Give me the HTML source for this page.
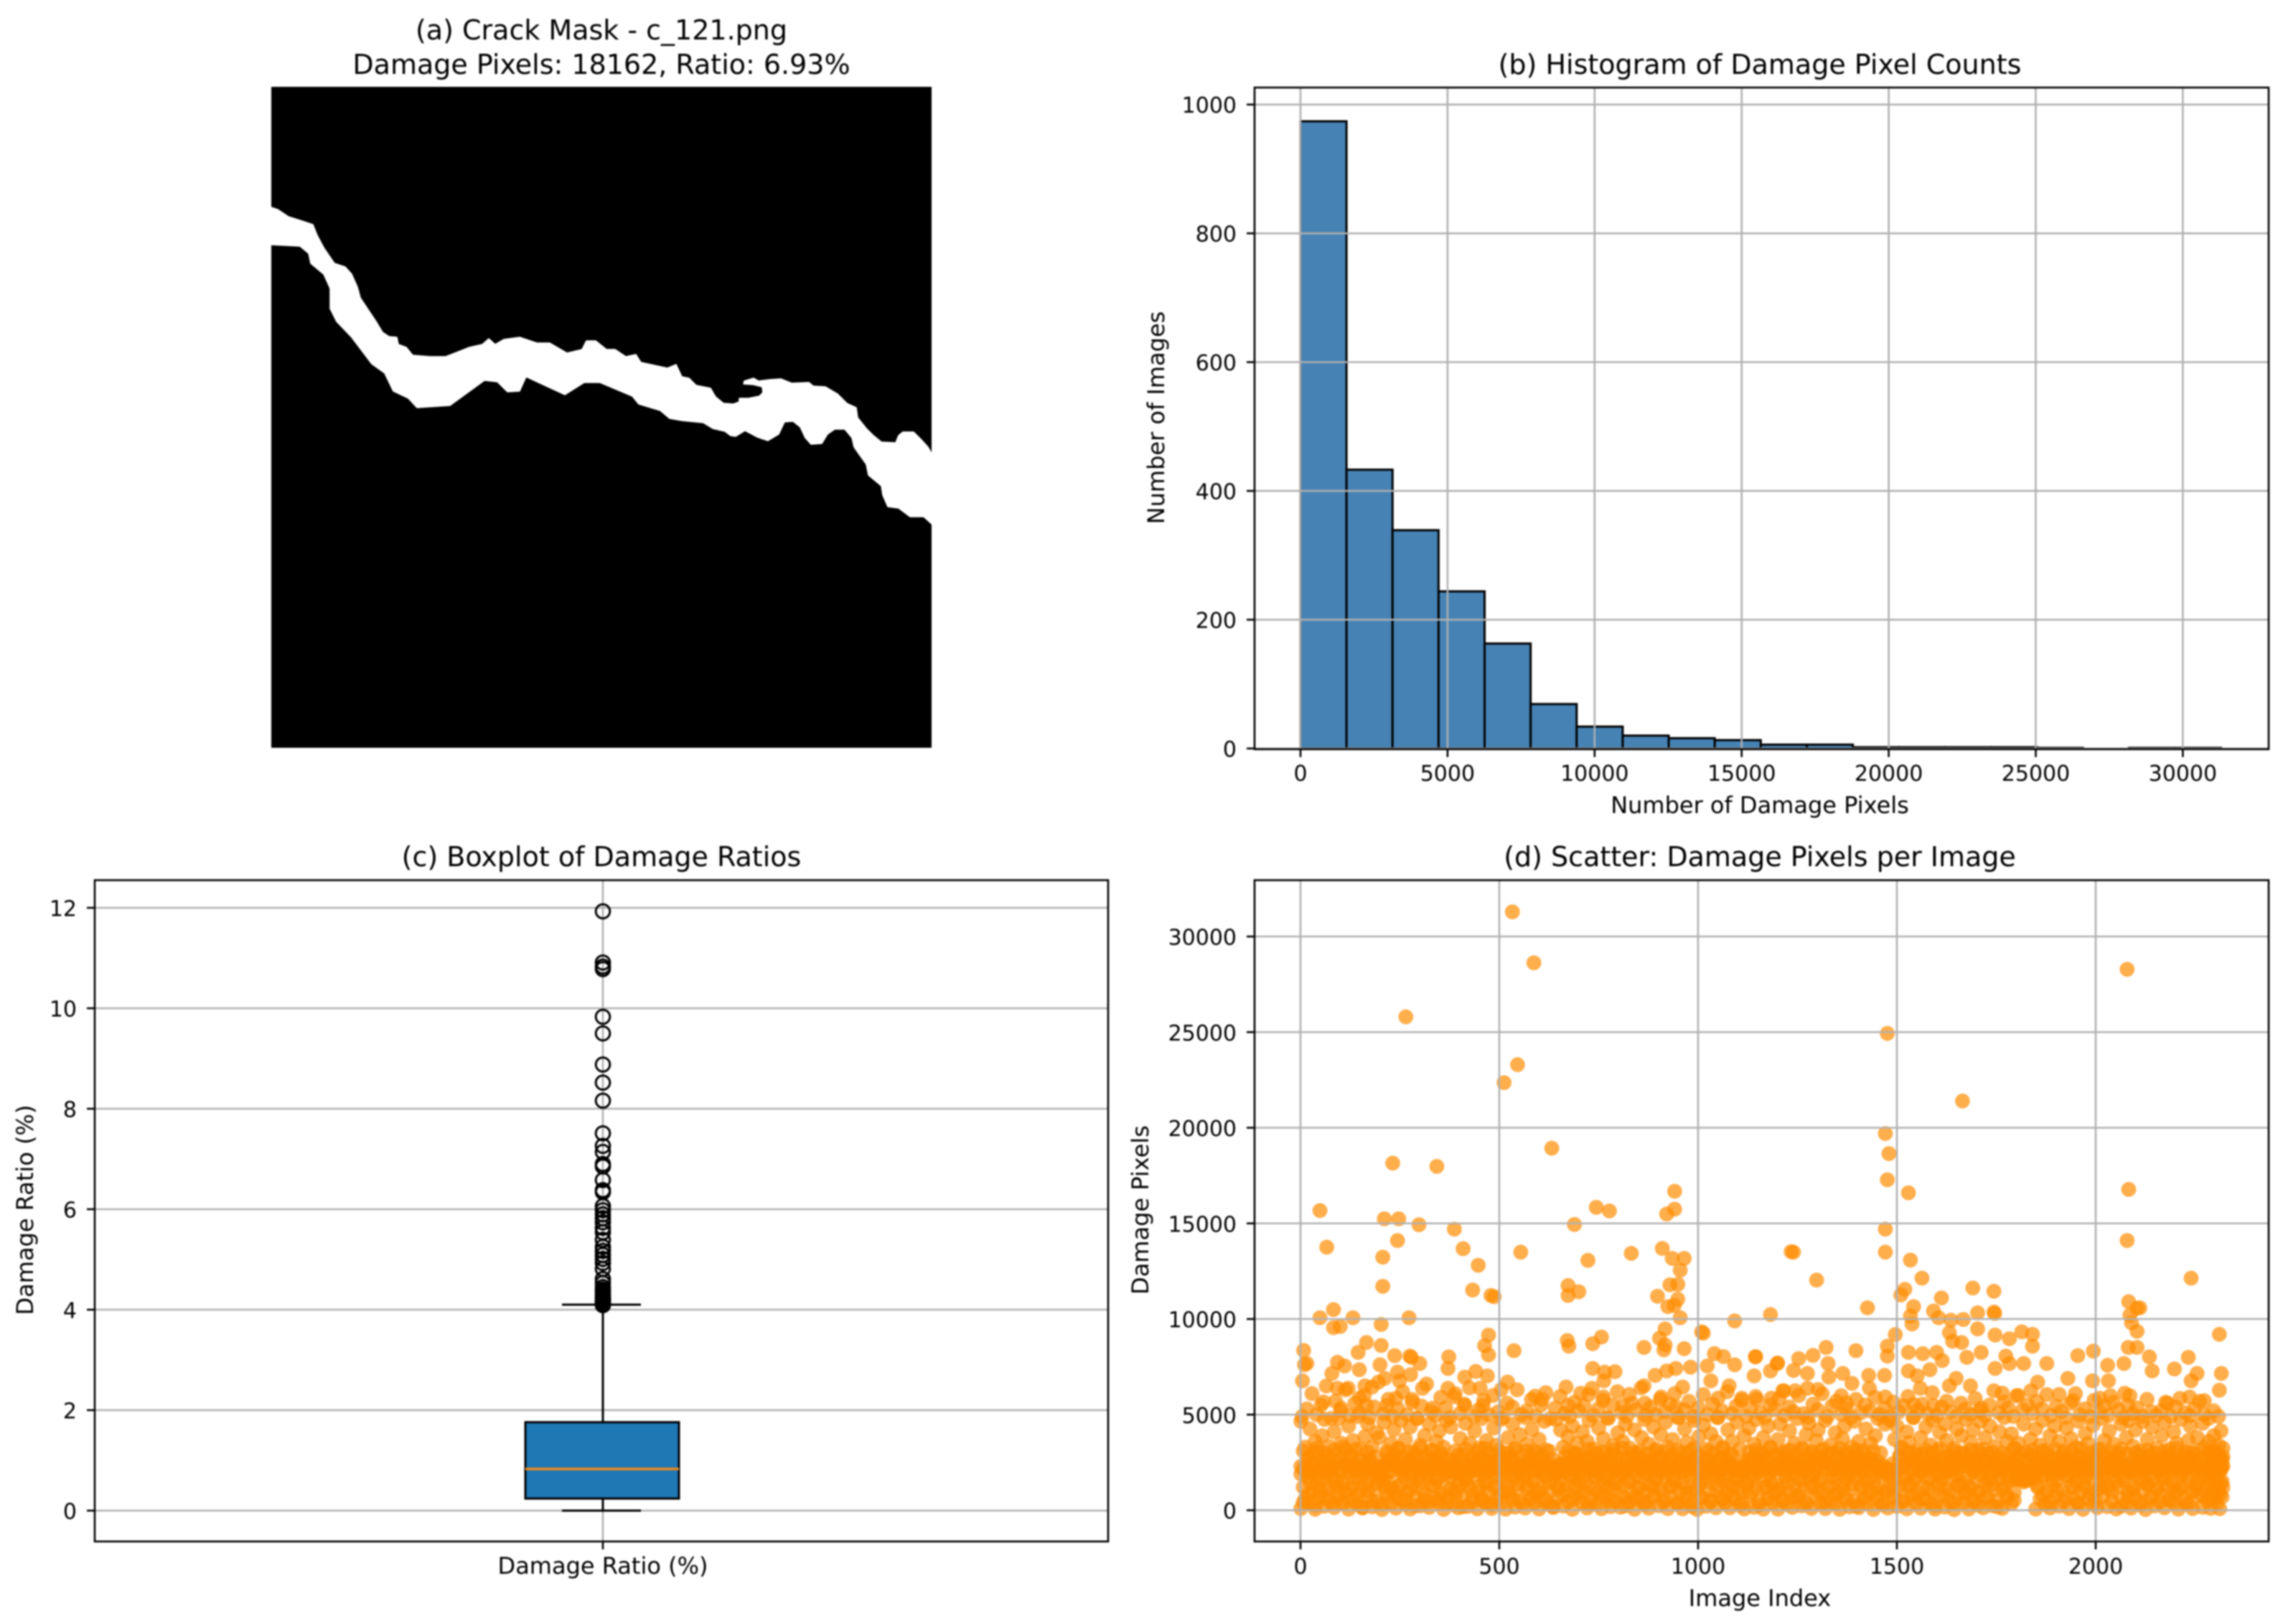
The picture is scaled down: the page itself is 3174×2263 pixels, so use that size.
<!DOCTYPE html>
<html lang="en">
<head>
<meta charset="utf-8">
<title>Crack damage analysis figure</title>
<style>
html,body{margin:0;padding:0;background:#fff;}
body{width:3174px;height:2263px;overflow:hidden;}
svg{display:block;filter:blur(1px);}
text{font-family:"DejaVu Sans","Liberation Sans",sans-serif;fill:#000;}
.title{font-size:38px;text-anchor:middle;}
.label{font-size:32px;text-anchor:middle;}
</style>
</head>
<body>
<svg id="figure" xmlns="http://www.w3.org/2000/svg" width="3174" height="2263" viewBox="0 0 3174 2263">
  <rect width="3174" height="2263" fill="#fff"/>

  <g id="panel-a">
    <text class="title" x="838" y="55">(a) Crack Mask - c_121.png</text>
    <text class="title" x="838" y="103">Damage Pixels: 18162, Ratio: 6.93%</text>
    <rect x="378" y="121" width="920" height="921" fill="#000"/>
    <polygon fill="#fff" stroke="#fff" stroke-width="1.5" stroke-linejoin="round" points="378,289 387,292 402,302 421,308 436,313 442,328 451,345 466,367 481,372 490,382 498,400 502,415 514,433 524,448 533,463 542,469 553,470 555,480 566,484 575,495 599,497 621,497 639,490 654,484 672,480 681,472 690,480 702,473 724,470 748,478 766,478 790,492 811,487 817,475 830,475 845,487 857,487 872,497 886,494 893,505 930,513 942,508 950,525 960,527 970,537 990,541 997,553 1008,562 1022,563 1030,560 1030,555 1043,555 1058,552 1063,547 1062,539 1050,536 1036,535 1037,531 1050,527 1057,531 1073,529 1088,528 1103,534 1127,533 1133,538 1150,539 1167,549 1180,562 1193,568 1195,582 1207,597 1217,607 1228,616 1248,617 1252,607 1258,602 1273,602 1283,612 1293,623 1298,632 1298,730 1287,720 1268,720 1252,708 1237,706 1230,690 1228,677 1210,662 1207,647 1197,633 1190,623 1187,610 1177,598 1163,598 1153,605 1145,618 1130,619 1122,610 1115,595 1105,587 1093,588 1085,605 1070,614 1055,609 1038,600 1025,608 1018,607 1010,601 993,597 980,589 950,586 933,583 920,572 890,563 881,552 836,533 814,533 787,550 733,525 724,545 707,546 693,532 675,530 627,565 581,568 569,555 548,545 536,520 518,507 490,470 469,448 460,430 460,402 451,382 433,367 430,353 418,343 378,341"/>
  </g>

  <g id="panel-b">
    <text class="title" x="2452" y="103">(b) Histogram of Damage Pixel Counts</text>
    <text class="label" x="2452" y="1133">Number of Damage Pixels</text>
    <text class="label" transform="translate(1622,582) rotate(-90)">Number of Images</text>
  </g>

  <g id="panel-c">
    <text class="title" x="838" y="1207">(c) Boxplot of Damage Ratios</text>
    <text class="label" transform="translate(46,1686) rotate(-90)">Damage Ratio (%)</text>
  </g>

  <g id="panel-d">
    <text class="title" x="2452" y="1207">(d) Scatter: Damage Pixels per Image</text>
    <text class="label" x="2452" y="2238">Image Index</text>
    <text class="label" transform="translate(1600,1686) rotate(-90)">Damage Pixels</text>
  </g>
</svg>

<script>
// ---------- Histogram data ----------
const histBinWidth = 1565;
const histCounts = [974,433,339,244,163,69,34,20,16,13,6,6,2,2,2,2,1,0,1,1];
const histXTicks = [0,5000,10000,15000,20000,25000,30000];
const histYTicks = [0,200,400,600,800,1000];

// ---------- Boxplot data ----------
const boxCategory = ["Damage Ratio (%)"];
const boxQ1 = [0.24];
const boxMedian = [0.83];
const boxQ3 = [1.76];
const boxWhiskerLow = [0.0];
const boxWhiskerHigh = [4.1];
const boxFliers = [11.93,10.91,10.83,10.78,9.83,9.50,8.88,8.52,8.16,7.51,7.26,7.14,6.90,6.85,6.58,6.38,6.34,6.06,5.98,5.90,5.82,5.74,5.63,5.54,5.39,5.25,5.17,5.09,5.01,4.93,4.81,4.61,4.53,4.45,4.40,4.37,4.33,4.29,4.26,4.23,4.21,4.19,4.17,4.15,4.13,4.11,4.09];
const boxYTicks = [0,2,4,6,8,10,12];

// ---------- Scatter data ----------
const scatterXTicks = [0,500,1000,1500,2000];
const scatterYTicks = [0,5000,10000,15000,20000,25000,30000];

const sparseIndex = [533,587,265,546,512,632,232,343,941,49,744,777,941,921,211,247,298,387,689,244,
66,207,409,554,447,723,832,910,935,965,955,207,433,479,487,673,673,700,949,929,
898,924,949,940,955,1234,1182,1092,1009,1013,83,49,132,273,83,100,203,166,203,145,
8,10,16,5,917,903,917,914,965,864,735,757,671,675,537,473,463,473,373,237,
275,279,300,200,212,1041,1064,1092,1145,1199,735,791,765,763,892,
2079,1476,1665,1471,1480,1476,1529,2083,1471,2079,1471,1240,1534,1298,1563,2240,1520,1510,1691,1744,
1612,2083,2111,2104,1426,1542,1592,1703,1744,1746,1534,2086,1605,1636,1667,1538,2090,2104,1703,1496,
2311,1632,1747,1814,1841,1640,1663,1783,1841,1476,1476,1529,1565,1600,1614,2082,2104,1994,1955,2030,
2071,2135,2142,2198,2233,2255,2316,2311,2240,1877,1930,1676,1712,1774,1397,1322,1289,1253,1200,1144,
1327,1329,1364,1387,1429,1469,1240,1275,1182,1141,1551,1529,1559,1583,1649,1747,1783,1819,1854,1992,
2032,2073,2180,2273,1943,1908,2236,
93,111,79,148,162,180,93,120,58,102,148,166,240,217,281,307,249,277,244,332,
371,371,387,413,441,470,452,459,413,521,505,590,608,668,673,705,733,762,827,864,
866,907,811,921,944,981,961,1023,1032,1078,1050,1110,1147,1184,1216,944,1213,1244,1275,1302,
1360,1373,1431,1471,1542,1592,1632,1685,1712,1765,1801,1837,2086,2010,2037];
const sparsePixels = [31290,28625,25800,23300,22360,18930,18150,17980,16680,15670,15840,15650,15740,15490,15240,15240,14930,14700,14945,14104,
13755,13237,13677,13496,12810,13069,13431,13690,13172,13172,12551,11710,11516,11231,11167,11749,11231,11425,11814,11788,
11192,10649,11037,10714,10067,13522,10235,9899,9329,9260,10494,10067,10067,10067,9549,9614,9717,8773,8617,8255,
8358,7608,7680,6767,9484,8993,8643,8385,8449,8514,8708,9057,8876,8579,8345,9161,8605,8125,8022,8087,
8061,7990,7673,7608,6896,8190,8035,7608,8035,7673,7414,7245,7220,6767,7052,
28285,24933,21400,19700,18650,17280,16600,16776,14700,14104,13496,13496,13082,12034,12137,12137,11555,11257,11620,11451,
11102,10908,10584,10560,10584,10649,10416,10325,10364,10290,10157,10196,10067,9937,9976,9743,9808,9355,9484,9187,
9200,9290,9161,9329,9200,8837,8773,8967,8578,8578,8061,8255,8190,8255,7828,8514,8514,8320,8087,7582,
7673,8022,7284,7388,7996,7155,7155,6275,6767,7673,6896,7996,8255,8061,8345,8514,8100,7930,7700,8022,
7673,6960,7155,6637,7052,7052,7310,7155,7284,7026,7026,7284,6378,7350,6896,7414,7673,7673,6700,6767,
6767,6120,5600,5730,5730,6055,5925,
7737,7544,7155,7350,6508,6443,6379,6379,5667,5343,5861,5473,5861,5473,5797,6378,6767,7090,7220,5343,
7414,6378,5926,6961,7260,7026,6378,5473,5473,6702,6314,5965,5797,6443,5473,6120,6379,5926,6055,6508,
5602,5926,5473,7284,7414,7480,6443,7544,6767,6508,5861,5861,5797,5861,6249,5408,6249,6249,6378,6314,
5991,5602,6378,5926,5538,5473,6508,6508,5343,6120,5991,6249,5991,5861,5991];

const bandIndex = [1,7,12,19,24,30,37,42,48,55,60,67,72,78,85,90,96,103,108,114,
121,126,132,139,144,151,156,162,169,174,180,187,192,198,205,210,217,222,228,235,
240,246,253,258,264,271,276,282,289,294,301,306,312,319,324,330,337,342,349,354,
360,367,372,378,385,390,397,402,408,415,420,426,433,438,445,450,456,463,468,474,
481,486,492,499,504,511,516,522,529,534,540,547,552,558,565,570,577,582,588,595,
600,606,613,618,625,630,636,643,648,654,661,666,673,678,684,691,696,702,709,714,
721,726,732,739,744,750,757,762,769,774,780,787,792,798,805,810,817,822,828,835,
840,846,853,858,865,870,876,883,888,894,901,906,913,918,924,931,936,942,949,954,
961,966,972,979,984,990,997,1002,1009,1014,1020,1027,1032,1038,1045,1050,1057,1062,1068,1075,
1080,1086,1093,1098,1105,1110,1116,1123,1128,1134,1141,1146,1153,1158,1164,1171,1176,1182,1189,1194,
1201,1206,1212,1219,1224,1230,1237,1242,1249,1254,1260,1267,1272,1278,1285,1290,1297,1302,1308,1315,
1320,1326,1333,1338,1345,1350,1356,1363,1368,1374,1381,1386,1393,1398,1404,1411,1416,1422,1429,1434,
1441,1446,1452,1459,1464,1470,1477,1482,1489,1494,1500,1507,1512,1518,1525,1530,1537,1542,1548,1555,
1560,1566,1573,1578,1585,1590,1596,1603,1608,1614,1621,1626,1633,1638,1644,1651,1656,1662,1669,1674,
1681,1686,1692,1699,1704,1710,1717,1722,1729,1734,1740,1747,1752,1758,1765,1770,1777,1782,1788,1795,
1800,1806,1812,1819,1824,1830,1836,1842,1849,1854,1860,1867,1872,1878,1885,1890,1897,1902,1908,1915,
1920,1926,1933,1938,1945,1950,1956,1963,1968,1974,1981,1986,1993,1998,2004,2011,2016,2022,2029,2034,
2041,2046,2052,2059,2064,2070,2077,2082,2089,2094,2100,2107,2112,2118,2125,2130,2137,2142,2148,2155,
2160,2166,2173,2178,2185,2190,2196,2203,2208,2214,2221,2226,2233,2238,2244,2251,2256,2262,2269,2274,
2281,2285,2289,2293,2297,2301,2305,2309,2312,2315,2318,2320];

const bandLowPixels = [90,1210,600,1740,330,980,50,1350,720,1620,210,1080,460,1810,140,1260,650,1530,380,900,
60,1150,540,1690,290,1020,120,1400,760,1580,180,1110,430,1760,40,1300,690,1490,350,940,
110,1240,580,1800,310,960,70,1370,700,1650,230,1060,490,1720,150,1280,620,1560,400,880,
40,1190,640,1770,270,1000,130,1330,740,1600,200,1120,450,1830,80,1250,670,1510,360,920,
100,1220,560,1710,340,970,60,1380,730,1640,170,1090,480,1790,120,1310,610,1540,390,890,
70,1170,630,1750,300,1010,140,1340,680,1590,220,1070,440,1820,50,1270,660,1500,370,950,
120,1230,590,1780,320,930,80,1360,750,1630,190,1100,470,1700,160,1290,640,1550,410,870,
50,1200,610,1730,280,990,110,1320,710,1610,240,1130,420,1800,90,1240,680,1520,350,910,
80,1180,570,1760,330,1030,40,1390,690,1660,210,1050,500,1740,130,1300,630,1570,380,940,
130,1250,620,1700,260,960,70,1350,770,1590,160,1110,450,1830,60,1260,650,1480,400,900,
60,1160,590,1790,310,1000,150,1370,720,1620,230,1080,430,1750,100,1320,670,1530,360,880,
90,1210,550,1720,340,950,50,1410,700,1650,180,1120,490,1810,140,1280,610,1510,390,930,
40,1190,640,1770,290,1020,120,1330,730,1580,200,1060,460,1730,80,1250,690,1560,370,910,
110,1240,600,1680,320,970,60,1360,750,1640,170,1100,440,1800,30,1300,620,1490,410,890,
70,1170,580,1750,270,1010,130,1380,680,1610,240,1090,480,1720,100,1270,660,1540,350,940,
1600,1720,1850,1480,1750,1560,1800,1650,60,1210,590,1770,300,980,120,1340,700,1600,220,1070,
450,1790,90,1280,640,1520,380,920,50,1190,610,1740,310,1030,140,1350,720,1630,190,1100,
470,1760,70,1260,600,1550,340,960,110,1220,650,1700,280,1000,40,1370,690,1590,230,1120,
430,1810,130,1300,620,1500,400,900,60,1180,570,1730,320,970,90,1340,740,1660,160,1080,
500,1750,100,1240,650,1530,360,1000,80,1400,700,1200];

const bandBasePixels = [1900,420,2300,820,1450,2100,260,1620,980,2450,640,1880,1180,2250,350,1560,860,2050,1320,2400,
520,1980,1240,2350,760,1700,150,2150,1050,2420,480,1840,1400,2280,300,1600,910,2000,1150,2380,
700,2200,1360,1950,560,2460,1080,1760,240,2120,1500,2330,840,1920,450,2260,1280,1680,620,2400,
1840,380,2180,1120,2440,790,1540,2040,180,1720,1350,2300,660,2090,1020,2470,510,1860,1420,2220,
280,2010,1260,2380,740,1640,2150,940,2430,560,1800,1380,2270,340,1960,1130,2500,680,1580,2100,
1000,2340,470,1780,1450,2200,210,1900,1190,2410,800,2060,1300,2480,590,1660,2290,910,1830,1480,
2380,310,2130,1070,1740,2450,720,1590,2240,1220,490,2020,1390,2360,860,1930,230,2170,1510,2430,
630,1850,1160,2310,410,2080,1340,2490,770,1690,2210,1040,1970,530,2400,1250,1610,2140,360,2280,
1430,2060,890,2460,200,1810,1110,2320,670,1950,1490,2230,440,2390,1010,1730,2110,580,1870,1300,
2420,750,1650,2190,1240,380,2030,1460,2350,920,1790,2470,270,2100,1180,2260,610,1910,1370,2400,
1060,2160,500,1760,1410,2440,690,1990,2310,830,1570,2090,340,2370,1200,1840,2230,960,1630,2480,
430,2050,1290,2330,780,1710,2180,1090,2410,550,1890,1350,2270,230,2000,1150,2460,700,1600,2140,
1440,2380,870,1940,320,2220,1030,1770,2430,640,2070,1270,2310,490,1830,1390,2490,810,1670,2190,
2040,570,2360,1130,1730,2450,260,1920,1470,2240,730,2120,1020,2400,390,1810,1320,2290,900,1620,
1230,2170,450,2470,1000,1860,2340,660,1550,2080,1360,2420,180,1960,1100,2250,790,1750,2500,520,
1700,1620,1780,1550,1860,1640,1720,1900,2030,1250,2400,780,1850,2180,420,1600,2290,1010,1940,2460,
2110,670,1780,2350,1180,2000,350,2430,1430,1690,2240,850,1990,560,2380,1140,1820,2150,1290,2470,
950,2060,1480,2320,210,1740,2210,710,2410,1080,1880,2450,400,1620,2130,1340,2280,620,1970,1200,
2370,860,1700,2490,530,2020,1270,2190,1050,1830,2430,320,1580,2310,980,2100,1410,2260,740,1900,
1300,2200,600,1850,2380,1050,1640,2450,820,2100,1500,2300];

const bandSolidPixels = [2300,3100,2050,2700,1950,2950,2400,3250,2150,2600,3000,2000,2850,2250,3150,2500,2100,2750,3300,2350,
2000,2900,2450,3200,2150,2650,1950,2300,3050,2550,2100,2800,2000,2200,1950,2350,3100,2650,2050,2950,
2500,3200,2100,2750,2300,3050,1950,2600,2900,2200,3250,2400,2000,2850,2550,3100,2150,2700,2350,3000,
2250,1950,2650,2100,2400,1950,2900,2050,2550,3200,2300,2000,2800,2450,3050,2150,2700,3250,2000,2600,
2950,2250,2500,3150,2050,2750,2350,3000,2150,2600,3250,2400,1950,2850,2200,3100,2500,2050,2700,3000,
2300,2000,2550,3150,2100,2400,1950,2250,2050,2350,2000,2800,3100,2250,2600,3000,1950,2450,2900,2150,
2700,3200,2050,2500,2950,2200,3050,2350,2600,1950,2850,3150,2100,2450,2750,3250,2000,2550,2300,3000,
2150,2800,3100,2400,1950,2650,2950,2250,2500,3200,2050,2750,2350,3050,2100,2600,2900,2200,3150,2450,
2000,2700,3000,2300,2550,3250,2100,2850,2400,1950,2650,3100,2250,2950,2050,2500,2750,3200,2150,2600,
2350,2900,2050,2250,2000,2100,2300,2600,3050,2450,2800,3150,2000,2550,2950,2200,2700,3250,2100,2400,
2850,2250,3000,2550,2050,3150,2400,2700,2950,2150,2500,3200,2300,2650,3050,2000,2800,2350,3100,2600,
2200,2900,2450,3000,2100,2750,3250,2350,2600,3050,2000,2500,2850,3150,2250,2650,2950,2050,2400,2700,
3100,2250,2550,2050,2350,2000,2150,1950,2100,2000,2300,2850,3200,2450,2700,3050,2150,2600,2950,2350,
2050,2800,3150,2500,2250,3000,2650,2100,3250,2400,2750,2000,2900,2550,3100,2200,2650,3000,2350,2850,
2450,3150,2000,2700,2250,2950,3200,2550,2100,2800,3050,2400,2650,2150,3000,2300,2900,2050,2500,3250,
2350,2750,3000,2200,2600,2050,2900,3150,2450,2000,2650,3100,2300,2850,2150,2550,3200,2400,2750,2050,
2950,2300,2600,3100,2150,2500,2850,3250,2050,2400,2700,3000,2200,2650,3150,2000,2450,2900,2350,2750,
3050,2500,2100,2800,3200,2300,2950,2000,2150,2650,3000,2400,2850,2050,2550,3150,2250,2700,3000,2450,
2000,2650,3100,2350,2900,2150,2550,3250,2450,2000,2800,3050,2300,2650,2950,2100,2500,3150,2750,2200,
2400,3000,2050,2700,2250,3100,2500,2900,2150,2600,2350,2800];

const bandMidPixels = [4650,2150,3300,2700,4250,2450,3600,3050,2050,3900,4750,2600,3350,2250,4100,2900,4800,3500,2350,3150,
4400,2800,3650,2100,4900,3200,2500,3850,4500,2700,3300,2150,4050,3800,2300,4600,2950,2400,3500,4200,
2800,3250,4700,2150,3700,2550,4350,3050,2250,4800,3400,2700,3900,2100,4500,3150,2450,3600,4150,2850,
3300,4700,2050,4350,2600,3100,2200,3750,2900,4550,2350,3500,2700,4150,2100,3250,4800,2500,3650,3000,
2150,4300,3400,2600,4750,3000,2300,3800,2800,4500,3200,2100,3950,2500,4850,3450,2700,4200,3100,2250,
3700,2900,4650,2400,3100,2050,2650,4750,2300,4200,3300,2500,3850,2150,4400,2950,3500,2650,4100,2250,
3600,4700,2800,3200,2100,4300,2550,3750,3050,4800,2350,3400,2900,4050,2150,3600,4500,2700,3250,2450,
4200,3000,2200,3800,4750,2600,3450,2100,4350,3100,2850,3950,2300,4600,3300,2650,3700,2100,4850,3000,
2500,4250,3550,2150,3150,4700,2800,3850,2300,4450,3200,2600,4000,2050,3600,4850,2750,3300,2350,4200,
2900,3600,2150,4600,3200,2450,3900,2100,4300,2700,3450,4750,2250,3050,3800,2550,4400,3300,2100,2900,
3700,4500,2400,3100,2800,4150,2200,3500,4800,2650,3250,2100,3950,4550,2950,2350,3650,4200,2750,3200,
4700,2500,3400,2100,4050,3000,2300,3750,4400,2850,2150,3300,4650,2600,3600,2050,3100,4250,2700,3500,
2400,3900,4800,3000,2200,4500,2100,4700,2050,3700,4400,2850,3300,2250,4100,3550,2700,4850,3100,2400,
3800,2950,4350,2150,3400,4700,2600,3100,4050,2300,4500,3650,2800,2100,3250,4250,2550,3900,3000,4750,
2350,3550,4200,2750,3150,4650,2150,3800,2950,4400,2500,3350,2100,4100,2700,4850,3600,2250,4000,3200,
2600,3500,2100,4500,3050,2300,3700,2850,4250,2150,3400,4700,2550,3150,3900,2050,4400,2700,3600,2250,
3100,4300,2500,3750,2000,3300,4650,2800,2200,4000,3500,2600,4450,2950,2100,3200,4800,3650,2400,4150,
2700,3450,2150,3000,4500,2350,3800,4700,2050,3350,4200,2500,3100,4650,2250,3700,2900,4350,2600,3250,
2100,3900,4600,2800,3200,2350,4100,3500,2650,4750,2950,2200,3650,4400,3000,2500,3800,2150,4550,3300,
2700,3600,2200,3100,3900,2500,2950,3400,2100,4150,2650,3250];

const fringeIndex = [4,16,29,41,52,65,77,88,101,113,124,137,149,160,173,185,196,209,221,232,
245,257,268,281,293,304,317,329,340,353,365,376,389,401,412,425,437,448,461,473,
484,497,509,520,533,545,556,569,581,592,605,617,628,641,653,664,677,689,700,713,
725,736,749,761,772,785,797,808,821,833,844,857,869,880,893,905,916,929,941,952,
965,977,988,1001,1013,1024,1037,1049,1060,1073,1085,1096,1109,1121,1132,1145,1157,1168,1181,1193,
1204,1217,1229,1240,1253,1265,1276,1289,1301,1312,1325,1337,1348,1361,1373,1384,1397,1409,1420,1433,
1445,1456,1469,1481,1492,1505,1517,1528,1541,1553,1564,1577,1589,1600,1613,1625,1636,1649,1661,1672,
1685,1697,1708,1721,1733,1744,1757,1769,1780,1793,1805,1816,1829,1841,1852,1865,1877,1888,1901,1913,
1924,1937,1949,1960,1973,1985,1996,2009,2021,2032,2045,2057,2068,2081,2093,2104,2117,2129,2140,2153,
2165,2176,2189,2201,2212,2225,2237,2248,2261,2273,2284,2297,2309];
const fringePixels = [4900,5300,6100,5000,5500,6500,4800,5700,5200,6300,4950,5600,5100,6000,4850,5400,6700,5050,5800,4900,
5300,6200,5000,5650,4800,5450,6600,5150,4950,5900,5350,4850,6100,5050,5550,6400,4900,5250,5750,5000,
6000,5150,4850,5600,5400,6300,5000,5200,5800,4900,5500,6150,4800,5350,5950,5050,4900,5650,5200,5450,
6050,4950,5300,5750,4850,5500,6200,5100,4900,5600,5250,6400,4950,5400,5000,5800,5150,5550,6100,4850,
5250,5700,4900,5350,6050,5000,5550,4850,5200,6200,5050,5450,5750,4900,5300,5950,5100,4850,5500,5250,
5850,4950,5400,5150,6000,5050,4850,5550,5250,6100,4900,5450,5700,5000,5300,4850,5800,5100,5500,5200,
5900,5000,5350,4900,5650,5150,5450,5950,4850,5250,5550,5050,6150,4950,5400,5700,5150,4900,5600,5300,
5000,5850,5200,4950,5500,6250,5100,5650,5350,4900,6000,5250,5500,5050,5700,5300,6050,4950,5450,5150,
4850,5600,6100,5000,5300,4900,5750,5150,5450,4950,5650,5250,4850,5500,5050,5350,4900,5800,5150,4950,
5200,5650,4900,5400,5850,5100,4950,5300,5700,5000,4800,5200,4900];

// ---------- Axis functions ----------
function histX(v){ return 1812 + 0.04098 * v; }
function histY(v){ return 1043 - 0.8973 * v; }
function boxY(v){ return 2105 - 70 * v; }
function scatterX(v){ return 1812 + 0.554 * v; }
function scatterY(v){ return 2104.5 - 0.02665 * v; }

const NS = 'http://www.w3.org/2000/svg';
const panelB = document.getElementById('panel-b');
const panelC = document.getElementById('panel-c');
const panelD = document.getElementById('panel-d');

function shape(parent, tag, name, props){
  const el = document.createElementNS(NS, tag);
  for (const k in props) el.setAttribute(k, props[k]);
  
  
  parent.appendChild(el);
  return el;
}
function line(parent, name, x1, y1, x2, y2, stroke, width){
  return shape(parent, 'line', name, {x1:x1, y1:y1, x2:x2, y2:y2, stroke:stroke, 'stroke-width':width});
}
function label(parent, name, x, y, anchor, str){
  const t = shape(parent, 'text', name, {x:x, y:y, 'text-anchor':anchor, 'font-size':30});
  t.textContent = str;
  return t;
}
const GRID = '#b0b0b0', GW = 2.6, TICK = 2.6;

function gridX(parent, ticks, fx, top, bottom){
  ticks.forEach(function(t){ line(parent, 'x-gridline', fx(t), top, fx(t), bottom, GRID, GW); });
}
function gridY(parent, ticks, fy, left, right){
  ticks.forEach(function(t){ line(parent, 'y-gridline', left, fy(t), right, fy(t), GRID, GW); });
}
function ticksX(parent, ticks, fx, bottom, baseline){
  ticks.forEach(function(t){
    line(parent, 'x-tick-mark', fx(t), bottom, fx(t), bottom + 11, '#000', TICK);
    label(parent, 'x-tick-label', fx(t), baseline, 'middle', String(t));
  });
}
function ticksY(parent, ticks, fy, left){
  ticks.forEach(function(t){
    line(parent, 'y-tick-mark', left - 11, fy(t), left, fy(t), '#000', TICK);
    label(parent, 'y-tick-label', left - 25, fy(t) + 11.5, 'end', String(t));
  });
}
function frame(parent, x0, y0, x1, y1){
  shape(parent, 'rect', 'axes-frame', {x:x0, y:y0, width:x1 - x0, height:y1 - y0, fill:'none', stroke:'#000', 'stroke-width':2.6});
}

// ---------- Panel B: histogram ----------
histCounts.forEach(function(c, i){
  if (c <= 0) return;
  const x0 = histX(i * histBinWidth), x1 = histX((i + 1) * histBinWidth);
  shape(panelB, 'rect', 'histogram-bar', {x:x0, y:histY(c), width:x1 - x0, height:histY(0) - histY(c), fill:'#4682b4', stroke:'#000', 'stroke-width':3});
});
gridX(panelB, histXTicks, histX, 122, 1044);
gridY(panelB, histYTicks, histY, 1748, 3161);
ticksX(panelB, histXTicks, histX, 1044, 1088);
ticksY(panelB, histYTicks, histY, 1748);
frame(panelB, 1748, 122, 3161, 1044);

// ---------- Panel C: boxplot ----------
const boxCx = 840;
gridX(panelC, [0], function(){ return boxCx; }, 1226.5, 2148);
gridY(panelC, boxYTicks, boxY, 132, 1544);
line(panelC, 'box-whisker-upper', boxCx, boxY(boxQ3[0]), boxCx, boxY(boxWhiskerHigh[0]), '#000', 3);
line(panelC, 'box-whisker-lower', boxCx, boxY(boxQ1[0]), boxCx, boxY(boxWhiskerLow[0]), '#000', 3);
line(panelC, 'box-cap-upper', 783, boxY(boxWhiskerHigh[0]), 893, boxY(boxWhiskerHigh[0]), '#000', 3);
line(panelC, 'box-cap-lower', 783, boxY(boxWhiskerLow[0]), 893, boxY(boxWhiskerLow[0]), '#000', 3);
shape(panelC, 'rect', 'box-interquartile-range', {x:732, y:boxY(boxQ3[0]), width:214, height:boxY(boxQ1[0]) - boxY(boxQ3[0]), fill:'#1f77b4', stroke:'#000', 'stroke-width':3});
line(panelC, 'box-median', 732, boxY(boxMedian[0]), 946, boxY(boxMedian[0]), '#f08a1d', 3.6);
boxFliers.forEach(function(v){
  shape(panelC, 'circle', 'box-outlier', {cx:boxCx, cy:boxY(v), r:9.8, fill:'none', stroke:'#000', 'stroke-width':3});
});
ticksY(panelC, boxYTicks, boxY, 132);
line(panelC, 'x-tick-mark', boxCx, 2148, boxCx, 2159, '#000', TICK);
const catLabel = shape(panelC, 'text', 'boxplot-x-axis-label', {x:boxCx, y:2193, 'text-anchor':'middle', 'font-size':32});
catLabel.textContent = boxCategory[0];
frame(panelC, 132, 1226.5, 1544, 2148);

// ---------- Panel D: scatter ----------
function plotPoints(xs, ys){
  const n = Math.min(xs.length, ys.length);
  for (let i = 0; i < n; i++) {
    shape(panelD, 'circle', 'scatter-point', {cx:scatterX(xs[i]), cy:scatterY(ys[i]), r:10.4, fill:'#ff8c00', 'fill-opacity':0.7});
  }
}
plotPoints(bandIndex, bandLowPixels);
plotPoints(bandIndex, bandBasePixels);
plotPoints(bandIndex, bandSolidPixels);
plotPoints(bandIndex, bandMidPixels);
plotPoints(fringeIndex, fringePixels);
plotPoints(sparseIndex, sparsePixels);
gridX(panelD, scatterXTicks, scatterX, 1226.5, 2148);
gridY(panelD, scatterYTicks, scatterY, 1748, 3161);
ticksX(panelD, scatterXTicks, scatterX, 2148, 2193);
ticksY(panelD, scatterYTicks, scatterY, 1748);
frame(panelD, 1748, 1226.5, 3161, 2148);
</script>
</body>
</html>
